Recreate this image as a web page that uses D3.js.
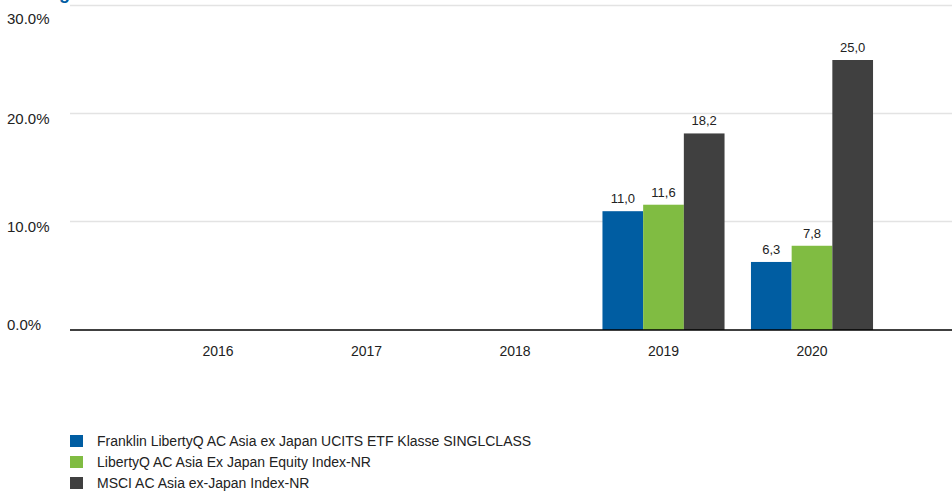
<!DOCTYPE html>
<html>
<head>
<meta charset="utf-8">
<script src="https://cdn.jsdelivr.net/npm/d3@7"></script>
<style>
  html, body { margin: 0; padding: 0; background: #fff; }
  svg { display: block; font-family: "Liberation Sans", Arial, sans-serif; }
</style>
</head>
<body>
<svg id="chart" width="952" height="491"></svg>
<script>
const years = ["2016", "2017", "2018", "2019", "2020"];
const fund = [null, null, null, 11.0, 6.3];
const libertyIndex = [null, null, null, 11.6, 7.8];
const msci = [null, null, null, 18.2, 25.0];
const seriesNames = [
  "Franklin LibertyQ AC Asia ex Japan UCITS ETF Klasse SINGLCLASS",
  "LibertyQ AC Asia Ex Japan Equity Index-NR",
  "MSCI AC Asia ex-Japan Index-NR"
];
const seriesColors = ["#005DA2", "#80BC42", "#404040"];
const yTicks = [0, 10, 20, 30];
const title = "Wertentwicklung";

const series = [fund, libertyIndex, msci];
const svg = d3.select("#chart");
const W = 952;
const plotLeft = 70, plotRight = 952;
const y = d3.scaleLinear().domain([0, 30]).range([330, 6]);
const x = d3.scaleBand().domain(years).range([143.75, 886.25]).paddingInner(0.178).paddingOuter(0.089);
// group inner band
const xs = d3.scaleBand().domain(d3.range(series.length)).range([0, x.bandwidth()]);

// cut-off title (only descender visible)
svg.append("text").attr("x", 70).attr("y", -1).attr("text-anchor", "end")
  .attr("font-size", 18).attr("font-weight", "bold").attr("fill", "#005DA2").text(title);

// gridlines
svg.append("g").selectAll("line").data(yTicks.filter(d => d > 0)).join("line")
  .attr("x1", plotLeft).attr("x2", plotRight)
  .attr("y1", d => y(d) - 0.5).attr("y2", d => y(d) - 0.5)
  .attr("stroke", "#e3e3e3").attr("stroke-width", 1.5);

// y labels
const labelY = d => d === 30 ? 19 : d === 0 ? y(d) - 5 : y(d) + 5;
svg.append("g").selectAll("text").data(yTicks).join("text")
  .attr("x", 7).attr("y", labelY).attr("dy", "0.35em")
  .attr("font-size", 15).attr("fill", "#222")
  .text(d => d3.format(".1f")(d) + "%");

// bars
const groups = svg.append("g").selectAll("g").data(years).join("g")
  .attr("transform", d => `translate(${x(d)},0)`);
series.forEach((s, si) => {
  groups.filter((d, i) => s[i] != null).append("rect")
    .attr("x", xs(si)).attr("width", xs.bandwidth())
    .attr("y", (d) => y(s[years.indexOf(d)]))
    .attr("height", (d) => y(0) - y(s[years.indexOf(d)]))
    .attr("fill", seriesColors[si]);
  groups.filter((d, i) => s[i] != null).append("text")
    .attr("x", xs(si) + xs.bandwidth() / 2)
    .attr("y", (d) => y(s[years.indexOf(d)]) - 8)
    .attr("text-anchor", "middle").attr("font-size", 13).attr("fill", "#222")
    .text(d => d3.format(".1f")(s[years.indexOf(d)]).replace(".", ","));
});

// x axis line
svg.append("line").attr("x1", plotLeft).attr("x2", plotRight)
  .attr("y1", y(0)).attr("y2", y(0)).attr("stroke", "#000").attr("stroke-width", 1.3);

// x labels
svg.append("g").selectAll("text").data(years).join("text")
  .attr("x", d => x(d) + x.bandwidth() / 2).attr("y", 351).attr("dy", "0.35em")
  .attr("text-anchor", "middle").attr("font-size", 14).attr("fill", "#222").text(d => d);

// legend
const leg = svg.append("g").selectAll("g").data(seriesNames).join("g")
  .attr("transform", (d, i) => `translate(70,${435 + i * 21})`);
leg.append("rect").attr("width", 13).attr("height", 12).attr("fill", (d, i) => seriesColors[i]);
leg.append("text").attr("x", 27).attr("y", 6).attr("dy", "0.35em")
  .attr("font-size", 14).attr("fill", "#222").text(d => d);
</script>
</body>
</html>
